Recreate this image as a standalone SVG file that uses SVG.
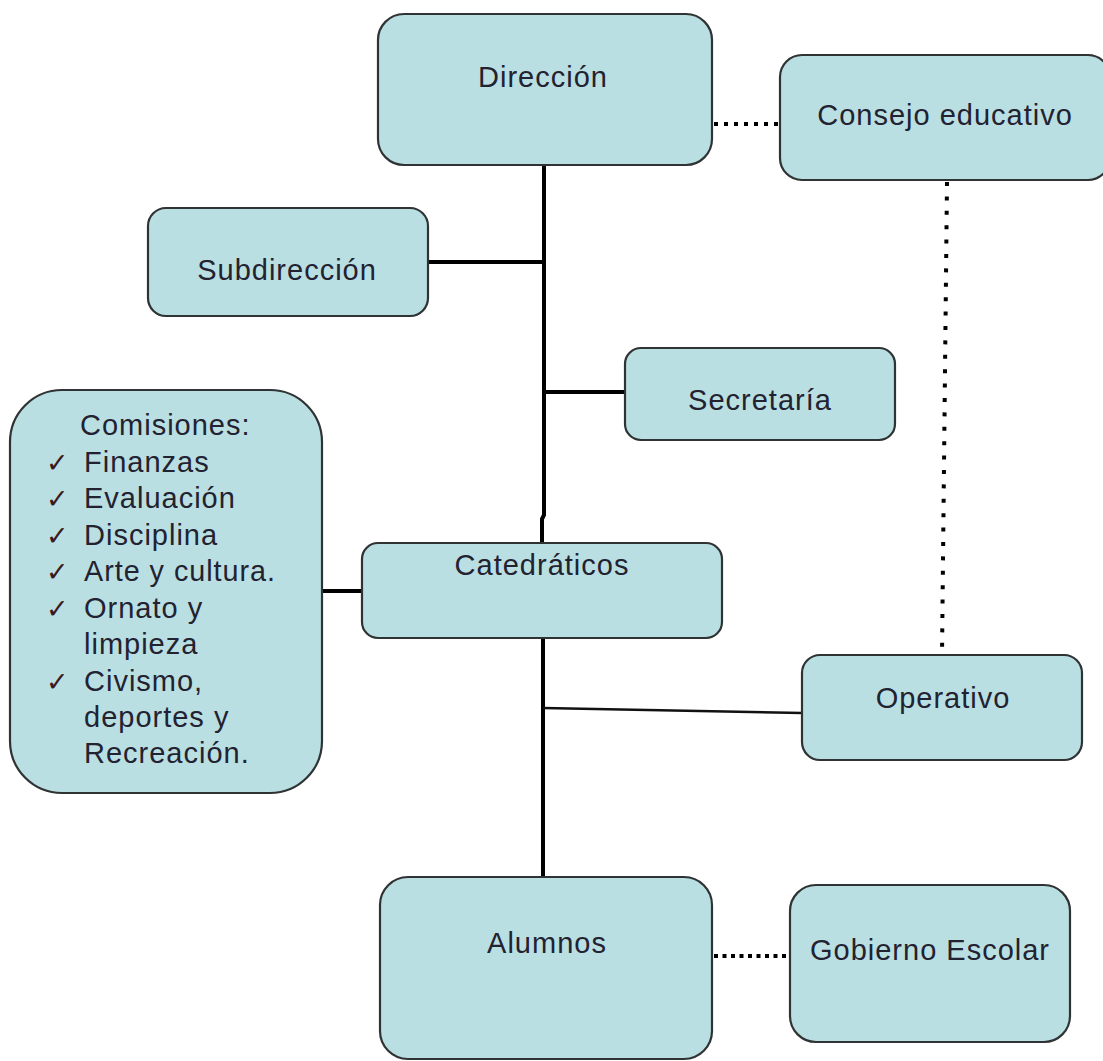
<svg xmlns="http://www.w3.org/2000/svg" width="1103" height="1061" viewBox="0 0 1103 1061">
<style>
.box{fill:#badfe3;stroke:#2f3333;stroke-width:2.2}
.t{font-family:"Liberation Sans",Arial,sans-serif;font-size:29px;fill:#222230;text-anchor:middle;letter-spacing:1px}
.l{font-family:"Liberation Sans",Arial,sans-serif;font-size:29px;fill:#222230;letter-spacing:1px}
.ck{font-family:"DejaVu Sans",sans-serif;font-size:27px;fill:#3a1a1a}
.solid{fill:none;stroke:#000;stroke-width:4}
.thin{fill:none;stroke:#111;stroke-width:2.5}
.dot{fill:none;stroke:#000;stroke-width:4}
</style>
<rect width="1103" height="1061" fill="#fff"/>
<g id="connectors">
<path class="solid" d="M544 165 V515 L542 519 V543"/>
<path class="solid" d="M543 638 V877"/>
<path class="solid" d="M428 262 H544"/>
<path class="solid" d="M544 392 H625"/>
<path class="solid" d="M322 591 H362"/>
<path class="thin" d="M543 708 L802 713"/>
<path class="dot" d="M714 124 H780" stroke-dasharray="4 6"/>
<path class="dot" d="M947 182 L942 655" stroke-dasharray="4 10.4"/>
<path class="dot" d="M714 956 H790" stroke-dasharray="4 4.5"/>
</g>
<g id="direccion">
<rect class="box" x="378" y="14" width="334" height="151" rx="26"/>
<text class="t" x="543" y="87">Dirección</text>
</g>
<g id="consejo">
<rect class="box" x="780" y="55" width="330" height="125" rx="22"/>
<text class="t" x="945" y="125">Consejo educativo</text>
</g>
<g id="subdireccion">
<rect class="box" x="148" y="208" width="280" height="108" rx="18"/>
<text class="t" x="287" y="280">Subdirección</text>
</g>
<g id="secretaria">
<rect class="box" x="625" y="348" width="270" height="92" rx="16"/>
<text class="t" x="760" y="410">Secretaría</text>
</g>
<g id="comisiones">
<rect class="box" x="10" y="390" width="312" height="403" rx="52"/>
<text class="l" x="80" y="435">Comisiones:</text>
<text class="ck" x="46" y="472">✓</text><text class="l" x="84" y="472">Finanzas</text>
<text class="ck" x="46" y="508">✓</text><text class="l" x="84" y="508">Evaluación</text>
<text class="ck" x="46" y="545">✓</text><text class="l" x="84" y="545">Disciplina</text>
<text class="ck" x="46" y="581">✓</text><text class="l" x="84" y="581" textLength="192" lengthAdjust="spacingAndGlyphs">Arte y cultura.</text>
<text class="ck" x="46" y="618">✓</text><text class="l" x="84" y="618">Ornato y</text>
<text class="l" x="84" y="654">limpieza</text>
<text class="ck" x="46" y="691">✓</text><text class="l" x="84" y="691">Civismo,</text>
<text class="l" x="84" y="727">deportes y</text>
<text class="l" x="84" y="763">Recreación.</text>
</g>
<g id="catedraticos">
<rect class="box" x="362" y="543" width="360" height="95" rx="16"/>
<text class="t" x="542" y="575">Catedráticos</text>
</g>
<g id="operativo">
<rect class="box" x="802" y="655" width="280" height="105" rx="18"/>
<text class="t" x="943" y="708">Operativo</text>
</g>
<g id="alumnos">
<rect class="box" x="380" y="877" width="332" height="182" rx="28"/>
<text class="t" x="547" y="953">Alumnos</text>
</g>
<g id="gobierno">
<rect class="box" x="790" y="885" width="280" height="157" rx="26"/>
<text class="t" x="930" y="960">Gobierno Escolar</text>
</g>
</svg>
